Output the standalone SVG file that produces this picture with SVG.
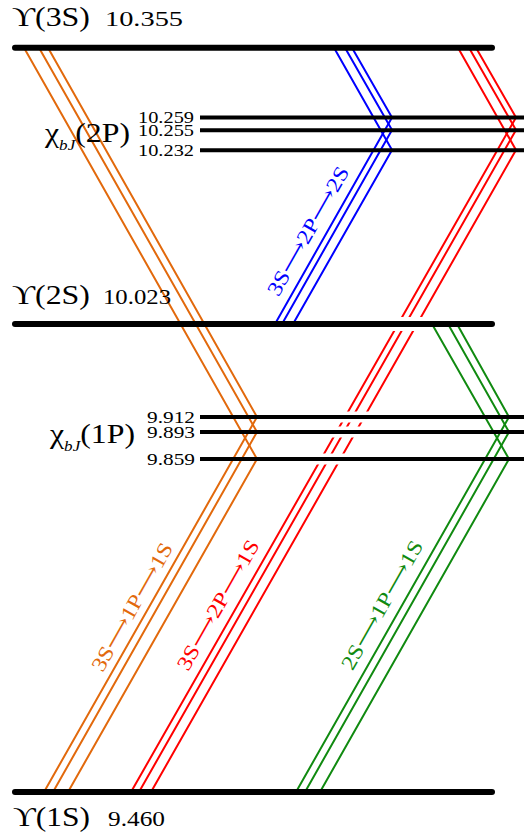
<svg xmlns="http://www.w3.org/2000/svg" width="524" height="834" viewBox="0 0 524 834">
<style>
.main{stroke:#000;stroke-width:6;stroke-linecap:round;fill:none}
.lvl{stroke:#000;stroke-width:4;fill:none}
.tr{fill:none;stroke-width:2;stroke-linejoin:miter}
.or{stroke:#e2690c}
.bl{stroke:#0000ff}
.rd{stroke:#ff0000}
.gr{stroke:#108a10}
text{font-family:"Liberation Serif","Times New Roman","DejaVu Serif",serif;fill:#000}
.big{font-size:28px}
.num{font-size:21px}
.sm{font-size:17.5px;text-anchor:end}
.lab{font-size:21px;text-anchor:middle}
.sub{font-size:15px;font-style:italic}
</style>
<defs>
<mask id="redgap" maskUnits="userSpaceOnUse" x="0" y="0" width="524" height="834">
<rect x="0" y="0" width="524" height="834" fill="#fff"/>
<rect x="0" y="317" width="524" height="14" fill="#000"/>
<rect x="0" y="411.5" width="524" height="11" fill="#000"/>
<rect x="0" y="426.5" width="524" height="11" fill="#000"/>
<rect x="0" y="453.5" width="524" height="11" fill="#000"/>
</mask>
</defs>
<g id="connectors">
<g class="tr or">
<polyline points="24,47.7 257,459 68,792"/>
<polyline points="39,47.7 257,432 53,792"/>
<polyline points="48,47.7 257,417 44,792"/>
</g>
<g class="tr bl">
<polyline points="334,47.7 392,150 293,324"/>
<polyline points="345,47.7 392,130 282,324"/>
<polyline points="352,47.7 392,117.5 275,324"/>
</g>
<g class="tr rd" mask="url(#redgap)">
<polyline points="458,47.7 516,150 151,792"/>
<polyline points="469,47.7 516,130 139,792"/>
<polyline points="476,47.7 516,117.5 131,792"/>
</g>
<g class="tr gr">
<polyline points="432,324 509,459 320,792"/>
<polyline points="448,324 509,432 305,792"/>
<polyline points="457,324 509,417 296,792"/>
</g>
</g>
<g id="Y3S">
<line class="main" x1="15" y1="47.7" x2="492" y2="47.7"/>
<text class="big" x="12" y="26" textLength="78" lengthAdjust="spacingAndGlyphs">ϒ(3S)</text>
<text class="num" x="105" y="26" textLength="78" lengthAdjust="spacingAndGlyphs">10.355</text>
</g>
<g id="chi2P">
<line class="lvl" x1="200" y1="117.5" x2="530" y2="117.5"/>
<line class="lvl" x1="200" y1="130.3" x2="530" y2="130.3"/>
<line class="lvl" x1="200" y1="150.3" x2="530" y2="150.3"/>
<text class="big" x="45" y="142" textLength="85" lengthAdjust="spacingAndGlyphs">χ<tspan class="sub" dy="8">bJ</tspan><tspan dy="-8">(2P)</tspan></text>
<text class="sm" x="194" y="123" textLength="56" lengthAdjust="spacingAndGlyphs">10.259</text>
<text class="sm" x="194" y="136" textLength="56" lengthAdjust="spacingAndGlyphs">10.255</text>
<text class="sm" x="194" y="156" textLength="56" lengthAdjust="spacingAndGlyphs">10.232</text>
</g>
<g id="Y2S">
<line class="main" x1="15" y1="324" x2="492" y2="324"/>
<text class="big" x="12" y="304" textLength="78" lengthAdjust="spacingAndGlyphs">ϒ(2S)</text>
<text class="num" x="103" y="304" textLength="68" lengthAdjust="spacingAndGlyphs">10.023</text>
</g>
<g id="chi1P">
<line class="lvl" x1="200" y1="417" x2="530" y2="417"/>
<line class="lvl" x1="200" y1="432" x2="530" y2="432"/>
<line class="lvl" x1="200" y1="459" x2="530" y2="459"/>
<text class="big" x="50" y="443" textLength="85" lengthAdjust="spacingAndGlyphs">χ<tspan class="sub" dy="8">bJ</tspan><tspan dy="-8">(1P)</tspan></text>
<text class="sm" x="195" y="423" textLength="48" lengthAdjust="spacingAndGlyphs">9.912</text>
<text class="sm" x="195" y="438" textLength="48" lengthAdjust="spacingAndGlyphs">9.893</text>
<text class="sm" x="195" y="465" textLength="48" lengthAdjust="spacingAndGlyphs">9.859</text>
</g>
<g id="Y1S">
<line class="main" x1="15" y1="792" x2="492" y2="792"/>
<text class="big" x="13" y="826" textLength="77" lengthAdjust="spacingAndGlyphs">ϒ(1S)</text>
<text class="num" x="108" y="826" textLength="57" lengthAdjust="spacingAndGlyphs">9.460</text>
</g>
<g id="labels">
<text class="lab" style="fill:#e2690c" transform="translate(132,607) rotate(-60.5)" y="7" textLength="144" lengthAdjust="spacingAndGlyphs">3S⟶1P⟶1S</text>
<text class="lab" style="fill:#ff0000" transform="translate(218,605) rotate(-60.5)" y="7" textLength="146" lengthAdjust="spacingAndGlyphs">3S⟶2P⟶1S</text>
<text class="lab" style="fill:#108a10" transform="translate(382,605) rotate(-60.5)" y="7" textLength="145" lengthAdjust="spacingAndGlyphs">2S⟶1P⟶1S</text>
<text class="lab" style="fill:#0000ff" transform="translate(308,231) rotate(-60.5)" y="7" textLength="145" lengthAdjust="spacingAndGlyphs">3S⟶2P⟶2S</text>
</g>
</svg>
